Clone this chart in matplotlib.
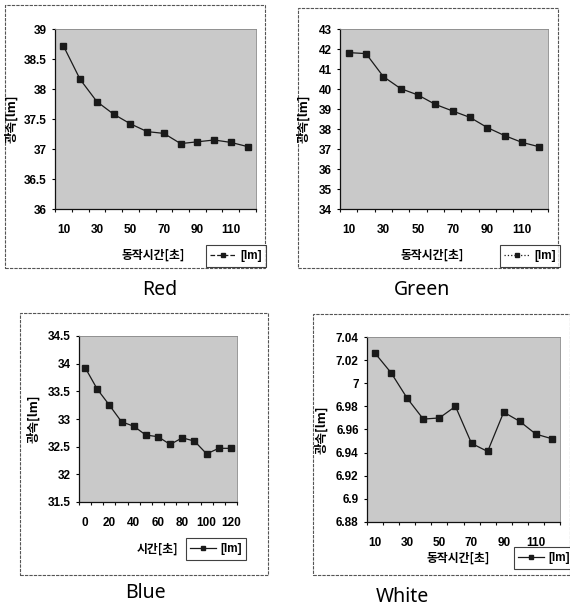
import matplotlib
matplotlib.use("Agg")
import matplotlib.pyplot as plt
from matplotlib.lines import Line2D
from matplotlib.patches import Rectangle
from matplotlib.ticker import FuncFormatter, FixedLocator

plt.rcParams['font.family'] = ['Liberation Sans', 'Noto Sans CJK KR', 'DejaVu Sans']

# ---------------- data ----------------
red_x = [10, 20, 30, 40, 50, 60, 70, 80, 90, 100, 110, 120]
red_y = [38.72, 38.16, 37.79, 37.58, 37.42, 37.29, 37.26, 37.09, 37.12, 37.15, 37.11, 37.04]

green_x = [10, 20, 30, 40, 50, 60, 70, 80, 90, 100, 110, 120]
green_y = [41.82, 41.77, 40.62, 40.02, 39.70, 39.23, 38.90, 38.58, 38.07, 37.67, 37.33, 37.11]

blue_x = [0, 10, 20, 30, 40, 50, 60, 70, 80, 90, 100, 110, 120]
blue_y = [33.93, 33.54, 33.25, 32.95, 32.87, 32.71, 32.68, 32.54, 32.66, 32.60, 32.37, 32.47, 32.47]

white_x = [10, 20, 30, 40, 50, 60, 70, 80, 90, 100, 110, 120]
white_y = [7.026, 7.009, 6.987, 6.969, 6.970, 6.980, 6.948, 6.941, 6.975, 6.967, 6.956, 6.952]

panel_titles = ["Red", "Green", "Blue", "White"]
x_titles = ["동작시간[초]", "동작시간[초]", "시간[초]", "동작시간[초]"]
y_title = "광속[lm]"
legend_label = "[lm]"

W, H = 570, 606
fig = plt.figure(figsize=(W / 100, H / 100), dpi=100)
fig.patch.set_facecolor('white')


def rect(x0, y0, x1, y1):
    return [x0 / W, 1 - y1 / H, (x1 - x0) / W, (y1 - y0) / H]


def fx(x):
    return x / W


def fy(y):
    return 1 - y / H


panels = [
    dict(x=red_x, y=red_y, ylim=(36, 39), ystep=0.5, frame=(5, 5, 265, 268), plot=(55, 29, 256, 209),
         xl=(153, 255), leg=(236, 256), title=(160, 290), ls='--', yl=12),
    dict(x=green_x, y=green_y, ylim=(34, 43), ystep=1, frame=(298, 8, 558, 268), plot=(340, 29, 548, 209),
         xl=(432, 255), leg=(530, 256), title=(422, 290), ls=':', yl=304),
    dict(x=blue_x, y=blue_y, ylim=(31.5, 34.5), ystep=0.5, frame=(20, 313, 268, 575), plot=(79, 336, 237, 502),
         xl=(157, 549), leg=(216, 549), title=(145, 593), ls='-', yl=34),
    dict(x=white_x, y=white_y, ylim=(6.88, 7.04), ystep=0.02, frame=(313, 314, 570, 575), plot=(367, 337, 560, 522),
         xl=(458, 558), leg=(544, 558), title=(402, 597), ls='-', yl=322),
]


def fmt(v, pos):
    s = '{:.2f}'.format(v).rstrip('0').rstrip('.')
    return s


KR = ['Noto Sans CJK KR', 'DejaVu Sans']

for i, p in enumerate(panels):
    # outer frame
    fx0, fy0, fx1, fy1 = p['frame']
    fig.patches.append(Rectangle((fx(fx0), fy(fy1)), (fx1 - fx0) / W, (fy1 - fy0) / H,
                                 transform=fig.transFigure, fill=False, edgecolor='#555555',
                                 linewidth=0.8, linestyle=(0, (3, 1))))
    ax = fig.add_axes(rect(*p['plot']))
    ax.set_facecolor('#c9c9c9')
    n = len(p['x'])
    idx = list(range(n))
    ax.plot(idx, p['y'], color='#1a1a1a', linewidth=0.9, marker='s', markersize=4.5,
            markerfacecolor='#1a1a1a', markeredgecolor='#1a1a1a')
    ax.set_xlim(-0.5, n - 0.5)
    ax.set_ylim(*p['ylim'])
    ticks_idx = idx[::2]
    ax.set_xticks(ticks_idx)
    ax.set_xticklabels([str(p['x'][k]) for k in ticks_idx])
    ax.xaxis.set_minor_locator(FixedLocator([k + 0.5 for k in range(-1, n)]))
    y0, y1 = p['ylim']
    nt = int(round((y1 - y0) / p['ystep']))
    ax.set_yticks([y0 + k * p['ystep'] for k in range(nt + 1)])
    ax.yaxis.set_major_formatter(FuncFormatter(fmt))
    ax.tick_params(axis='x', which='major', length=0, pad=11, labelsize=8.5)
    ax.tick_params(axis='x', which='minor', length=2.5, width=0.8, color='#111111', direction='out')
    ax.tick_params(axis='y', length=2, pad=4, labelsize=8.5)
    for lab in ax.get_xticklabels() + ax.get_yticklabels():
        lab.set_fontweight('bold')
    for s in ['top', 'right']:
        ax.spines[s].set_color('#888888')
        ax.spines[s].set_linewidth(0.6)
    for s in ['left', 'bottom']:
        ax.spines[s].set_color('#111111')
        ax.spines[s].set_linewidth(0.9)
    # axis titles
    fig.text(fx(p['xl'][0]), fy(p['xl'][1]), x_titles[i], ha='center', va='center',
             fontsize=8.5, fontweight='bold', family=KR)
    ycen = (p['plot'][1] + p['plot'][3]) / 2
    fig.text(fx(p['yl']), fy(ycen), y_title, ha='center', va='center', rotation=90,
             fontsize=9, fontweight='bold', family=KR)
    # legend
    h = Line2D([], [], color='#1a1a1a', linestyle=p['ls'], linewidth=0.9, marker='s', markersize=3.5)
    leg = fig.legend([h], [legend_label], loc='center', bbox_to_anchor=(fx(p['leg'][0]), fy(p['leg'][1])),
                     frameon=True, fancybox=False, edgecolor='#111111', fontsize=8.5,
                     handlelength=2.2, handletextpad=0.3, borderpad=0.4, borderaxespad=0)
    leg.get_frame().set_linewidth(0.8)
    for t in leg.get_texts():
        t.set_fontweight('bold')
    # panel title
    fig.text(fx(p['title'][0]), fy(p['title'][1]), panel_titles[i], ha='center', va='center',
             fontsize=14, family=['Noto Sans', 'DejaVu Sans'])

fig.savefig('out.png', dpi=100)
